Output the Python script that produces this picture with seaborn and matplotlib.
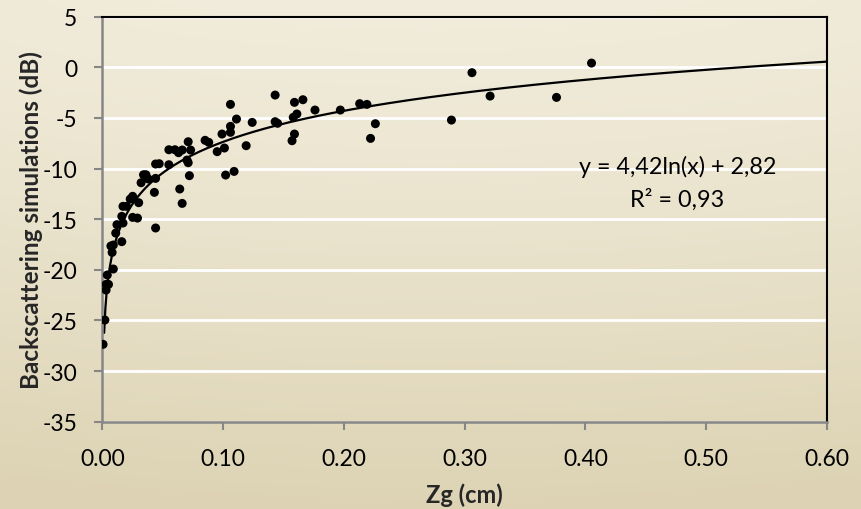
import numpy as np
import pandas as pd
import matplotlib
matplotlib.use("Agg")
import matplotlib.pyplot as plt
import seaborn as sns

# ---- data ----
zg = [0.405, 0.306, 0.321, 0.376, 0.289, 0.143, 0.106, 0.159, 0.166, 0.176,
      0.197, 0.213, 0.219, 0.226, 0.222, 0.158, 0.161, 0.159, 0.157, 0.143,
      0.145, 0.124, 0.111, 0.106, 0.106, 0.099, 0.101, 0.119, 0.095, 0.085,
      0.088, 0.102, 0.109, 0.071, 0.073, 0.066, 0.063, 0.060, 0.055, 0.070,
      0.071, 0.072, 0.064, 0.066, 0.055, 0.047, 0.044, 0.044, 0.036, 0.038,
      0.043, 0.044, 0.034, 0.032, 0.030, 0.029, 0.025, 0.025, 0.023, 0.020,
      0.017, 0.016, 0.017, 0.016, 0.012, 0.011, 0.009, 0.007, 0.008, 0.009,
      0.004, 0.003, 0.005, 0.003, 0.002, 0.0005]
backscatter = [0.42, -0.53, -2.84, -2.97, -5.21, -2.74, -3.66, -3.46, -3.20, -4.22,
               -4.22, -3.59, -3.66, -5.57, -7.02, -4.94, -4.61, -6.59, -7.25, -5.37,
               -5.53, -5.44, -5.11, -5.83, -6.42, -6.59, -7.97, -7.74, -8.33, -7.21,
               -7.41, -10.64, -10.28, -7.35, -8.17, -8.17, -8.43, -8.14, -8.14, -9.16,
               -9.42, -10.70, -12.02, -13.44, -9.62, -9.52, -9.55, -10.97, -10.61, -11.03,
               -12.35, -15.87, -10.61, -11.40, -13.37, -14.89, -14.82, -12.74, -13.01, -13.73,
               -13.73, -14.72, -15.38, -17.22, -15.54, -16.37, -17.55, -17.65, -18.28, -19.92,
               -20.51, -21.44, -21.44, -22.00, -24.96, -27.36]

fit_a = 4.42
fit_b = 2.82
fit_label = "y = 4,42ln(x) + 2,82"
r2_label = "R² = 0,93"

x_ticks = [0.0, 0.1, 0.2, 0.3, 0.4, 0.5, 0.6]
y_ticks = [-35, -30, -25, -20, -15, -10, -5, 0, 5]

df = pd.DataFrame({"Zg": zg, "Backscatter": backscatter})
xfit = np.linspace(0.0014, 0.6, 600)
fit_df = pd.DataFrame({"Zg": xfit, "Fit": fit_a * np.log(xfit) + fit_b})

# ---- figure ----
sns.set_theme(style="white")
plt.rcParams["font.family"] = ["Lato", "DejaVu Sans"]

fig = plt.figure(figsize=(8.61, 5.10), dpi=100)

# background gradient
bg = fig.add_axes([0, 0, 1, 1], zorder=-10)
h, w = 255, 430
yy, xx = np.mgrid[0:1:h * 1j, 0:1:w * 1j]
top = np.array([241, 236, 219]) / 255.0
bot = np.array([221, 211, 180]) / 255.0
t = yy ** 1.3
vign = ((xx - 0.5) ** 2) * 0.25
t = np.clip(t + vign, 0, 1)
img = top[None, None, :] * (1 - t[..., None]) + bot[None, None, :] * t[..., None]
bg.imshow(img, aspect="auto", extent=[0, 1, 0, 1], origin="upper")
bg.set_axis_off()

ax = fig.add_axes([0.119, 0.1712, 0.8415, 0.9653 - 0.1712])
ax.set_facecolor("none")

for yv in y_ticks:
    ax.axhline(yv, color="white", lw=2.0, zorder=0)

sns.lineplot(data=fit_df, x="Zg", y="Fit", ax=ax, color="black", lw=1.6, zorder=2)
sns.scatterplot(data=df, x="Zg", y="Backscatter", ax=ax, color="black", s=42,
                edgecolor="none", zorder=3)

ax.set_xlim(0, 0.6)
ax.set_ylim(-35, 5)
ax.set_xticks(x_ticks)
ax.set_xticklabels([f"{v:.2f}" for v in x_ticks])
ax.set_yticks(y_ticks)
ax.set_yticklabels([str(v) for v in y_ticks])

ax.tick_params(axis="both", which="both", direction="out", length=6, width=1.5,
               color="#868686", labelsize=16.5, labelcolor="black")
ax.tick_params(axis="x", pad=13)
ax.tick_params(axis="y", pad=12)
ax.xaxis.set_ticks_position("bottom")
ax.yaxis.set_ticks_position("left")

for side in ["left", "bottom"]:
    ax.spines[side].set_color("#868686")
    ax.spines[side].set_linewidth(1.8)
for side in ["top", "right"]:
    ax.spines[side].set_color("black")
    ax.spines[side].set_linewidth(1.5)
    ax.spines[side].set_visible(True)

ax.set_xlabel("Zg (cm)", fontsize=17, fontweight="bold")
ax.set_ylabel("Backscattering simulations (dB)", fontsize=17.5, fontweight="bold")
ax.xaxis.set_label_coords(0.499, -0.150)
ax.yaxis.set_label_coords(-0.082, 0.5)

ax.text(0.476, -9.78, fit_label, ha="center", va="center", fontsize=16.8, color="black")
ax.text(0.476, -12.95, r2_label, ha="center", va="center", fontsize=16.8, color="black")

fig.savefig("out.png", dpi=100)
